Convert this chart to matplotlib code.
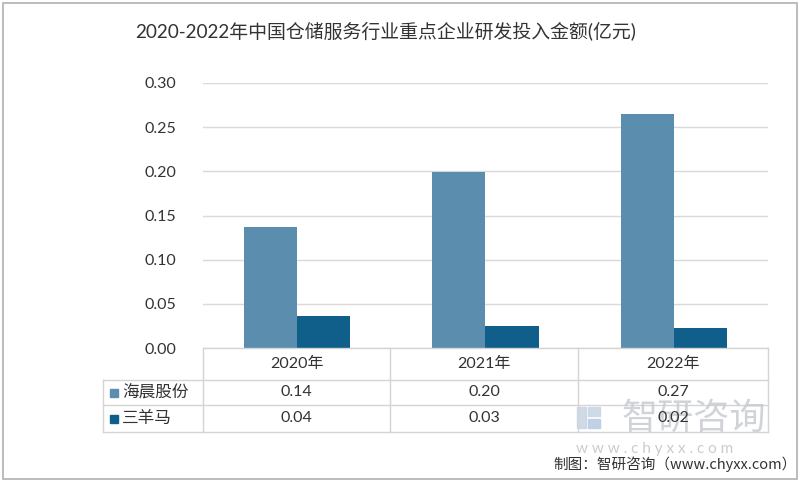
import matplotlib
matplotlib.use("Agg")
import matplotlib.pyplot as plt
from matplotlib.patches import Rectangle
from matplotlib.lines import Line2D

plt.rcParams['font.family'] = ['Lato', 'Noto Sans CJK SC', 'DejaVu Sans']

categories = ['2020年', '2021年', '2022年']
series_names = ['海晨股份', '三羊马']
haichen = [0.137, 0.199, 0.265]
sanyangma = [0.036, 0.025, 0.023]
table_haichen = ['0.14', '0.20', '0.27']
table_sanyangma = ['0.04', '0.03', '0.02']
yticks = [0.00, 0.05, 0.10, 0.15, 0.20, 0.25, 0.30]
title = '2020-2022年中国仓储服务行业重点企业研发投入金额(亿元)'
source = '制图：智研咨询（www.chyxx.com）'

c_light = '#5b8eae'
c_dark = '#0f5f8a'
grid_c = '#d9d9d9'
text_c = '#333333'

W, H = 800, 484
fig = plt.figure(figsize=(8, 4.84), dpi=100)

def fx(x):
    return x / W

def fy(y):
    return 1 - y / H

# figure border
fig.add_artist(Rectangle((fx(3), fy(479)), fx(794), (476) / H, fill=False,
                         edgecolor='#b0b0b0', lw=1.2, transform=fig.transFigure))

ax_left, ax_right, ax_top, ax_bot = 203, 768, 83, 348
ax = fig.add_axes([fx(ax_left), fy(ax_bot), fx(ax_right - ax_left), (ax_bot - ax_top) / H])
ax.set_xlim(-0.5, 2.5)
ax.set_ylim(0, 0.30)
ax.set_yticks(yticks)
ax.set_yticklabels([f'{v:.2f}' for v in yticks], fontsize=11.5, color=text_c)
ax.tick_params(axis='y', length=0, pad=19)
ax.set_xticks([])
for s in ax.spines.values():
    s.set_visible(False)
ax.grid(axis='y', color=grid_c, lw=1)
ax.set_axisbelow(True)

bw = 0.283
xs = range(len(categories))
ax.bar([x - bw / 2 for x in xs], haichen, width=bw, color=c_light, zorder=3)
ax.bar([x + bw / 2 for x in xs], sanyangma, width=bw, color=c_dark, zorder=3)

# title
fig.text(fx(386), fy(32), title, ha='center', va='center', fontsize=13.6, color=text_c)

# data table
tc = '#d4d4d4'
col_edges = [203, 390, 578, 768]
def hline(x0, x1, y):
    fig.add_artist(Line2D([fx(x0), fx(x1)], [fy(y), fy(y)], color=tc, lw=1, transform=fig.transFigure))
def vline(x, y0, y1):
    fig.add_artist(Line2D([fx(x), fx(x)], [fy(y0), fy(y1)], color=tc, lw=1, transform=fig.transFigure))

hline(203, 768, 348)
hline(103, 768, 380)
hline(103, 768, 405)
hline(103, 768, 432)
for x in col_edges:
    vline(x, 348, 432)
vline(103, 380, 432)

# watermark (behind table text)
wm = '#c8ccd2'
fig.add_artist(Rectangle((fx(577), fy(428)), fx(9), 21 / H, color='#c9d6e6', transform=fig.transFigure, alpha=0.9))
fig.add_artist(Rectangle((fx(588), fy(428)), fx(12), 9 / H, color='#b9cde3', transform=fig.transFigure, alpha=0.9))
fig.add_artist(Rectangle((fx(588), fy(416)), fx(12), 9 / H, color='#c9d6e6', transform=fig.transFigure, alpha=0.9))
fig.text(fx(694), fy(419), '智研咨询', ha='center', va='center', fontsize=26, color=wm,
         family=['Noto Sans CJK SC', 'DejaVu Sans'], alpha=0.85)
fig.text(fx(655), fy(449), 'w w w . c h y x x . c o m', ha='center', va='center', fontsize=11, color=wm)

centers = [(col_edges[i] + col_edges[i + 1]) / 2 for i in range(3)]
for i, c in enumerate(categories):
    fig.text(fx(centers[i]), fy(364), c, ha='center', va='center', fontsize=11.5, color=text_c)
    fig.text(fx(centers[i]), fy(392.5), table_haichen[i], ha='center', va='center', fontsize=11.5, color=text_c)
    fig.text(fx(centers[i]), fy(418.5), table_sanyangma[i], ha='center', va='center', fontsize=11.5, color=text_c)

for name, yc, col in [(series_names[0], 392.5, c_light), (series_names[1], 418.5, c_dark)]:
    fig.add_artist(Rectangle((fx(110), fy(yc + 4)), fx(8), 8 / H, color=col, transform=fig.transFigure))
    fig.text(fx(122), fy(yc), name, ha='left', va='center', fontsize=12, color=text_c,
             family=['Noto Sans CJK SC', 'DejaVu Sans'])

fig.text(fx(797), fy(464), source, ha='right', va='center', fontsize=10.5, color=text_c,
         family=['Noto Sans CJK SC', 'DejaVu Sans'])

fig.savefig('out.png', dpi=100)
